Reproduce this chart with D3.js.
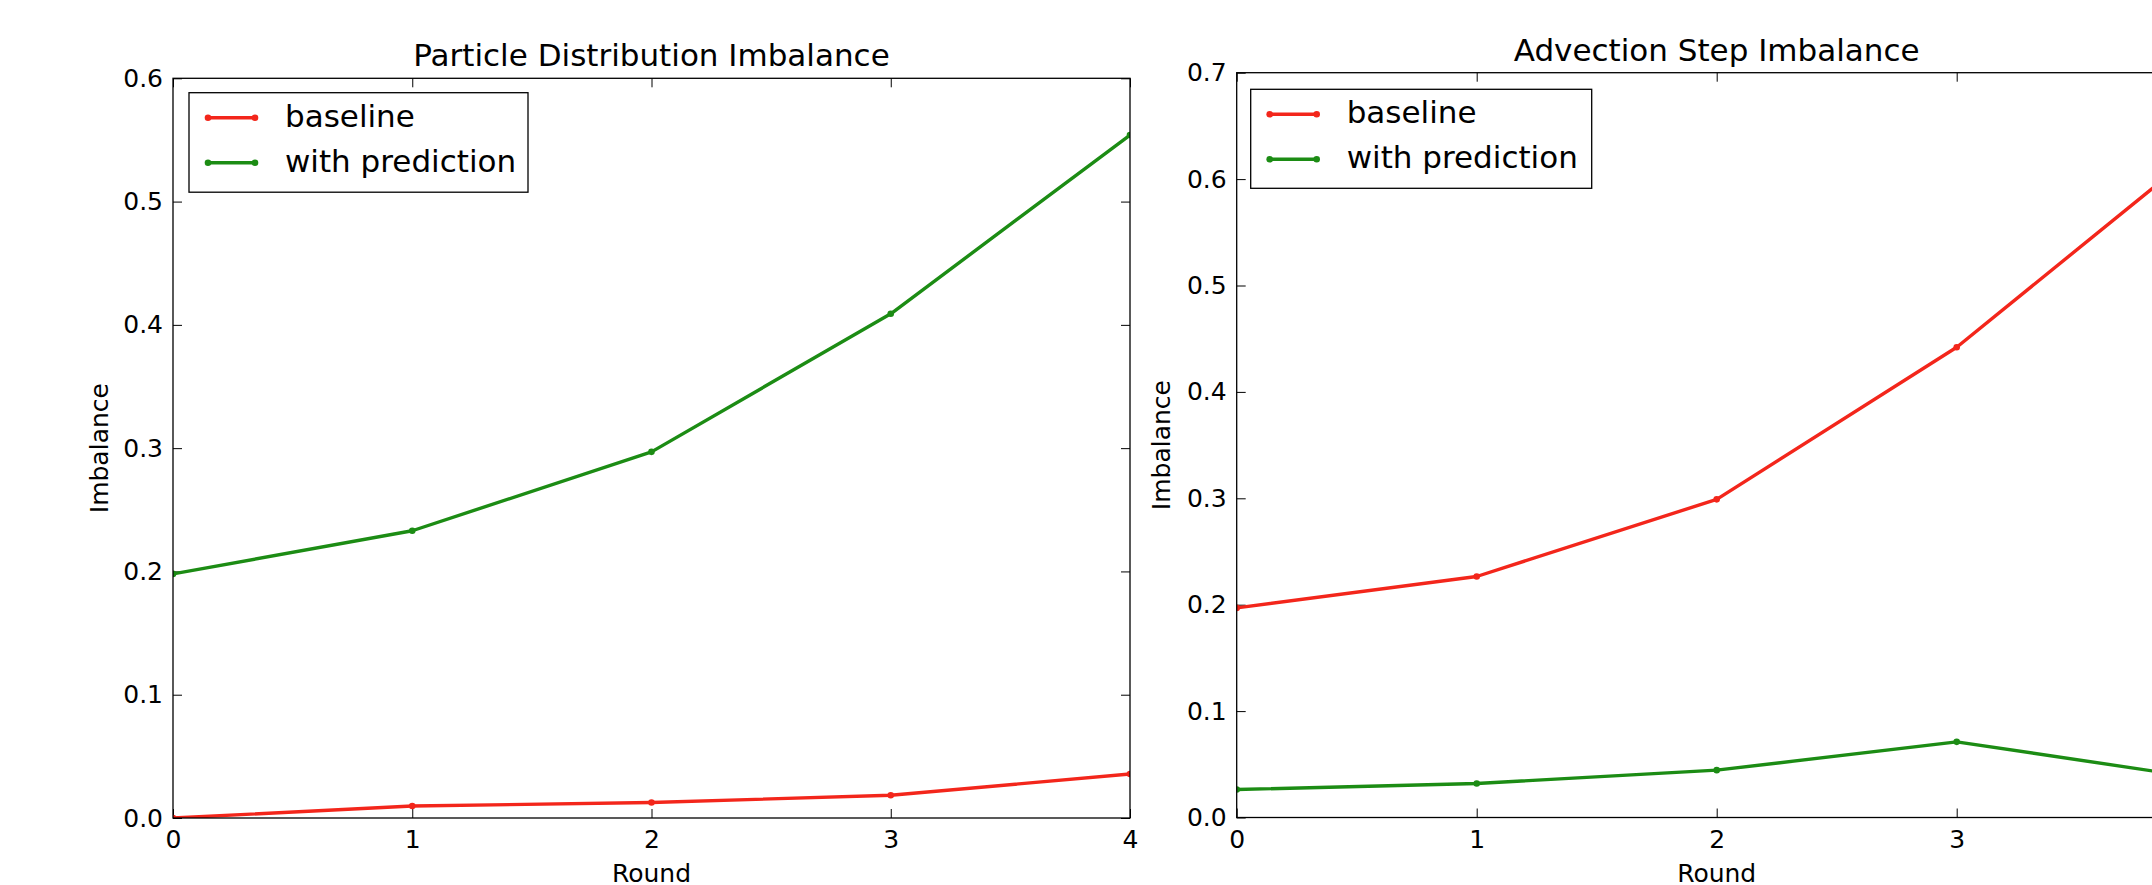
<!DOCTYPE html>
<html><head><meta charset="utf-8">
<script src="https://cdn.jsdelivr.net/npm/d3@7"></script>
<style>
body{margin:0;background:#fff;overflow:hidden}
svg{display:block}
text{font-family:"DejaVu Sans",sans-serif;fill:#000}
</style>
</head><body><svg id="c" width="2152" height="885"></svg>
<script>
// ---- data ----
const rounds = [0, 1, 2, 3, 4];
const xTickLabels = ["0", "1", "2", "3", "4"];
const seriesNames = ["baseline", "with prediction"];
const chartTitles = ["Particle Distribution Imbalance", "Advection Step Imbalance"];
const xLabel = "Round";
const yLabel = "Imbalance";
const particleBaseline   = [0.0, 0.0097, 0.0126, 0.0184, 0.0357];
const particlePrediction = [0.198, 0.233, 0.297, 0.409, 0.554];
const advectionBaseline   = [0.197, 0.2265, 0.299, 0.442, 0.625];
const advectionPrediction = [0.0263, 0.032, 0.0445, 0.0711, 0.0376];
const leftYTicks  = [0, 0.1, 0.2, 0.3, 0.4, 0.5, 0.6];
const rightYTicks = [0, 0.1, 0.2, 0.3, 0.4, 0.5, 0.6, 0.7];

const RED = "#f3261b", GREEN = "#1c8c14";
const seriesColors = [RED, GREEN];

const panels = [
  {x0:173, x1:1130, y0:78.3, y1:818, yMax:0.6, yTicks:leftYTicks,
   series:[particleBaseline, particlePrediction], title:chartTitles[0],
   ylabX:108, leg:{x:189, y:92.7, w:339, h:99.5}},
  {x0:1236.7, x1:2196.7, y0:72.7, y1:817.5, yMax:0.7, yTicks:rightYTicks,
   series:[advectionBaseline, advectionPrediction], title:chartTitles[1],
   ylabX:1170, leg:{x:1250.7, y:89.3, w:341, h:99}}
];

const svg = d3.select("#c");
const fmt = d3.format(".1f");

panels.forEach((p, pi) => {
  const x = d3.scaleLinear().domain([0, 4]).range([p.x0, p.x1]);
  const y = d3.scaleLinear().domain([0, p.yMax]).range([p.y1, p.y0]);
  const g = svg.append("g");

  const clipId = "clip" + pi;
  svg.append("clipPath").attr("id", clipId).append("rect")
    .attr("x", p.x0).attr("y", p.y0).attr("width", p.x1 - p.x0).attr("height", p.y1 - p.y0);

  // axes (ticks inward)
  const left = g.append("g").attr("transform", `translate(${p.x0},0)`)
    .call(d3.axisLeft(y).tickValues(p.yTicks).tickFormat(fmt).tickSize(-9).tickSizeOuter(0).tickPadding(10));
  const right = g.append("g").attr("transform", `translate(${p.x1},0)`)
    .call(d3.axisRight(y).tickValues(p.yTicks).tickFormat("").tickSize(-9).tickSizeOuter(0));
  const visibleX = rounds.filter(r => x(r) < 2152);
  const bottom = g.append("g").attr("transform", `translate(0,${p.y1})`)
    .call(d3.axisBottom(x).tickValues(visibleX).tickFormat(d => xTickLabels[rounds.indexOf(d)]).tickSize(-9).tickSizeOuter(0).tickPadding(12.5));
  const top = g.append("g").attr("transform", `translate(0,${p.y0})`)
    .call(d3.axisTop(x).tickValues(rounds).tickFormat("").tickSize(-9).tickSizeOuter(0));
  [left, right, bottom, top].forEach(a => {
    a.select(".domain").remove();
    a.selectAll("line").attr("stroke", "#000").attr("stroke-width", 1);
    a.selectAll("text").attr("font-size", 25).attr("font-family", '"DejaVu Sans",sans-serif').attr("fill", "#000");
  });

  // lines
  const line = d3.line().x((d, i) => x(rounds[i])).y(d => y(d));
  const plot = g.append("g").attr("clip-path", `url(#${clipId})`);
  p.series.forEach((s, si) => {
    plot.append("path").datum(s).attr("d", line)
      .attr("fill", "none").attr("stroke", seriesColors[si]).attr("stroke-width", 3.4)
      .attr("stroke-linejoin", "round");
    plot.selectAll(null).data(s).enter().append("circle")
      .attr("cx", (d, i) => x(rounds[i])).attr("cy", d => y(d)).attr("r", 3.3)
      .attr("fill", seriesColors[si]);
  });

  // spines
  g.append("rect").attr("x", p.x0).attr("y", p.y0)
    .attr("width", p.x1 - p.x0).attr("height", p.y1 - p.y0)
    .attr("fill", "none").attr("stroke", "#000").attr("stroke-width", 1.3);

  // title
  g.append("text").attr("x", (p.x0 + p.x1) / 2).attr("y", p.y0 - 12)
    .attr("text-anchor", "middle").attr("font-size", 31).text(p.title);

  // axis labels
  g.append("text").attr("x", (p.x0 + p.x1) / 2).attr("y", 882)
    .attr("text-anchor", "middle").attr("font-size", 25).text(xLabel);
  g.append("text").attr("transform", `translate(${p.ylabX},${(p.y0 + p.y1) / 2}) rotate(-90)`)
    .attr("text-anchor", "middle").attr("font-size", 25).text(yLabel);

  // legend
  const L = p.leg;
  const lg = g.append("g");
  lg.append("rect").attr("x", L.x).attr("y", L.y).attr("width", L.w).attr("height", L.h)
    .attr("fill", "#fff").attr("stroke", "#000").attr("stroke-width", 1.3);
  seriesNames.forEach((name, si) => {
    const cy = L.y + 25 + si * 45;
    lg.append("line").attr("x1", L.x + 19).attr("x2", L.x + 66).attr("y1", cy).attr("y2", cy)
      .attr("stroke", seriesColors[si]).attr("stroke-width", 3.4);
    [L.x + 19, L.x + 66].forEach(cx => lg.append("circle").attr("cx", cx).attr("cy", cy).attr("r", 3.3).attr("fill", seriesColors[si]));
    lg.append("text").attr("x", L.x + 96).attr("y", cy + 9).attr("font-size", 31).text(name);
  });
});
</script>
</body></html>
